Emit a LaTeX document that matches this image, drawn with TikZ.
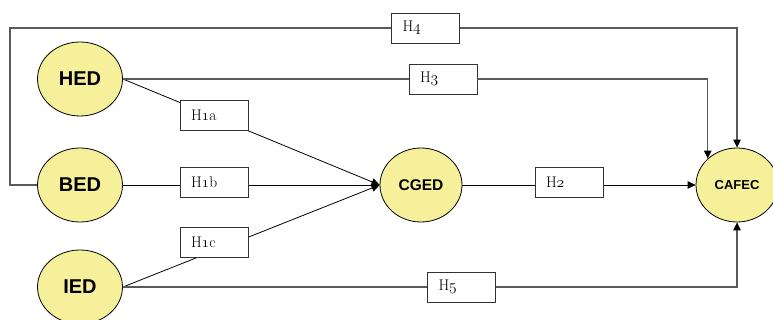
\documentclass[tikz,border=0pt]{standalone}
\usepackage{fix-cm}
\usepackage{fontspec}
\setsansfont{Liberation Sans}
\usepackage{tikz}
\usetikzlibrary{arrows.meta, shapes.geometric}
\definecolor{LvYellow}{HTML}{F6F09A}
\definecolor{PathGray}{HTML}{5A5A5A}
\newcommand{\hnum}[1]{\ensuremath{\mathnormal{#1}}}

\begin{document}
\begin{tikzpicture}[x=1pt, y=-1pt,
        lv/.style={ellipse, draw, line width=0.8pt, fill=LvYellow, minimum width=85pt,
                   minimum height=74pt, inner sep=0pt, font=\sffamily\bfseries\fontsize{20}{22}\selectfont},
        hyp/.style={draw=black!80, fill=white, line width=0.7pt, minimum height=30pt,
                    text width=46pt, inner xsep=11pt, inner ysep=0pt, align=left,
                    font=\fontsize{15.5}{17}\selectfont},
        a/.style={-{Triangle[length=8pt, width=7.5pt, black]}},
        k/.style={draw=black, line width=0.8pt},
        g/.style={draw=PathGray, line width=1.3pt},
      ]
        \useasboundingbox (0,0) rectangle (773,320);
        % constructs
        \node[lv] (HED) at (80,79) {HED};
        \node[lv] (BED) at (80,185) {BED};
        \node[lv] (IED) at (80,287) {IED};
        \node[lv, minimum width=82pt, font=\sffamily\bfseries\fontsize{15.5}{17}\selectfont] (CGED) at (421,185) {CGED};
        \node[lv, minimum width=82pt, font=\sffamily\bfseries\fontsize{13}{15}\selectfont] (CAFEC) at (737,185) {CAFEC};
        % paths to CGED
        \draw[k, a] (HED.east) -- (CGED.west);
        \draw[k, a] (BED.east) -- (CGED.west);
        \draw[k, a] (IED.east) -- (CGED.west);
        \draw[k, a] (CGED.east) -- (CAFEC.west);
        % hypothesis labels
        \node[hyp] (H1a) at (214,115.5) {H\hnum{1}a};
        \node[hyp] (H1b) at (214,182.5) {H\hnum{1}b};
        \node[hyp] (H1c) at (214,242) {H\hnum{1}c};
        \node[hyp] (H2) at (569,182.5) {H\hnum{2}};
        \node[hyp] (H3) at (443,79) {H\hnum{3}};
        \node[hyp] (H4) at (425.5,28) {H\hnum{4}};
        \node[hyp] (H5) at (461.5,287) {H\hnum{5}};
        % direct paths to CAFEC
        \draw[g] (HED.east) -- (H3.west);
        \draw[g, a] (H3.east) -| (CAFEC.north west);
        \draw[g] (BED.west) -- ++(-27,0) |- (H4.west);
        \draw[g, a] (H4.east) -| (CAFEC.north);
        \draw[g] (IED.east) -- (H5.west);
        \draw[g, a] (H5.east) -| (CAFEC.south);
      \end{tikzpicture}
\end{document}
